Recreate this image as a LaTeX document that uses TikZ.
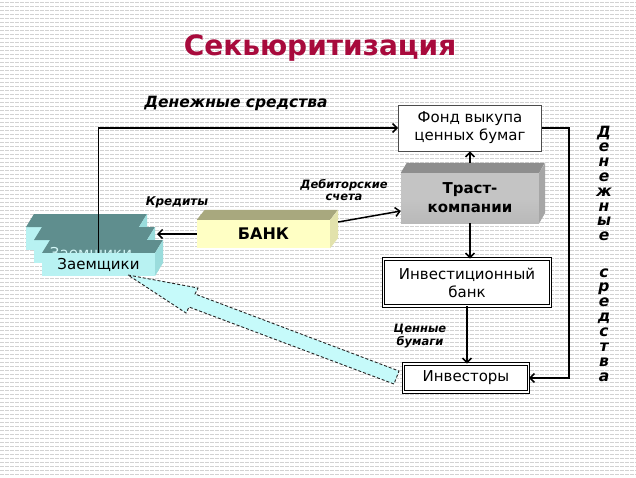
\documentclass[tikz,border=0pt]{standalone}
\usepackage{fontspec}
\setmainfont{DejaVu Sans}
\usetikzlibrary{arrows.meta,calc}
\definecolor{titlered}{HTML}{A80A3C}
\definecolor{zfront}{HTML}{B8F2F2}
\definecolor{ztop}{HTML}{5F8E8E}
\definecolor{zside}{HTML}{9ADCDC}
\definecolor{bfront}{HTML}{FFFFC4}
\definecolor{btop}{HTML}{A8A87E}
\definecolor{bside}{HTML}{E2E2AC}
\definecolor{tfront}{HTML}{C4C4C4}
\definecolor{ttop}{HTML}{8E8E8E}
\definecolor{tside}{HTML}{A6A6A6}
\definecolor{acyan}{HTML}{C6FAFA}
\begin{document}
\begin{tikzpicture}[x=1pt,y=-1pt,
  stripe/.style={draw=gray!35,line width=1pt,dash pattern=on 4pt off 1pt},
  conn/.style={-{Straight Barb[length=4.5pt,width=9pt]},line width=1.5pt},
  plainbox/.style={draw=black!70,fill=white,line width=0.8pt,inner sep=0pt,
    align=center,font=\fontsize{15}{18}\selectfont},
  dblbox/.style={draw=black,double=white,double distance=1.8pt,line width=0.8pt,
    fill=white,inner sep=0pt,align=center,font=\fontsize{15}{18}\selectfont},
  lab/.style={font=\bfseries\itshape\fontsize{11.5}{12.5}\selectfont,align=center},
  vlab/.style={font=\bfseries\itshape\fontsize{15.5}{15.5}\selectfont,anchor=base}
]
\useasboundingbox (0,0) rectangle (636,477);
\fill[white] (0,0) rectangle (636,477);
\foreach \i in {0,...,119} \draw[stripe] (0,{\i*4+2}) -- (636,{\i*4+2});

% title
\node[font=\bfseries\fontsize{28}{32}\selectfont,text=titlered] (title) at (320,48) {Секьюритизация};

% Заемщики: stacked 3D boxes
\foreach \bx/\by in {26/227,34/240} {
  \fill[zfront] (\bx,\by) rectangle (\bx+113,\by+23);
  \fill[ztop] (\bx,\by) -- (\bx+8,\by-13) -- (\bx+121,\by-13) -- (\bx+113,\by) -- cycle;
  \fill[zside] (\bx+113,\by) -- (\bx+121,\by-13) -- (\bx+121,\by+10) -- (\bx+113,\by+23) -- cycle;
}
\fill[ztop] (42,253) -- (50,240) -- (163,240) -- (155,253) -- cycle;
\fill[zside] (155,253) -- (163,240) -- (163,263) -- (155,276) -- cycle;
\begin{scope}
  \clip (40,238) rectangle (160,252.5);
  \node[font=\fontsize{15}{18}\selectfont,text=zfront!60!white,inner sep=0pt] (zghost) at (91,254) {Заемщики};
\end{scope}
\node[fill=zfront,minimum width=113pt,minimum height=23pt,inner sep=0pt,
  font=\fontsize{15}{18}\selectfont] (zaem) at (98.5,264.5) {Заемщики};
\coordinate (zr) at (157,232);

% БАНК
\node[fill=bfront,minimum width=133pt,minimum height=28pt,inner sep=0pt,
  font=\bfseries\fontsize{16}{18}\selectfont] (bank) at (263.5,234) {БАНК};
\fill[btop] (bank.north west) -- ++(8,-10) -- ++(133,0) -- (bank.north east) -- cycle;
\fill[bside] (bank.north east) -- ++(8,-10) -- ++(0,28) -- (bank.south east) -- cycle;

% Траст-компании
\node[top color=tfront,bottom color=gray!55,middle color=tfront,minimum width=138pt,minimum height=50pt,inner sep=0pt,
  align=center,font=\bfseries\fontsize{15}{19}\selectfont] (trast) at (470,198) {Траст-\\компании};
\fill[ttop] (trast.north west) -- ++(6,-10) -- ++(138,0) -- (trast.north east) -- cycle;
\fill[tside] (trast.north east) -- ++(6,-10) -- ++(0,50) -- (trast.south east) -- cycle;

% Фонд
\node[plainbox,minimum width=143pt,minimum height=46pt] (fond) at (470,128) {Фонд выкупа\\ценных бумаг};
% Инвестиционный банк
\node[dblbox,minimum width=167pt,minimum height=47pt] (invbank) at (467,282.5) {Инвестиционный\\банк};
% Инвесторы
\node[dblbox,minimum width=125pt,minimum height=28pt] (invest) at (466,378) {Инвесторы};

% block arrow
\draw[fill=acyan,draw=black!85,line width=0.9pt,dash pattern=on 3pt off 2pt]
  (128,275) -- (198,288) -- (195,294) -- (399,371) -- (394,384) -- (189,307) -- (186,313) -- cycle;

% connectors
\draw[conn] (zaem.north) |- (fond.west);
\draw[conn] (bank.west) -- (zr |- bank.west);
\draw[conn] ([shift={(8,-12)}]bank.east) -- ([shift={(0,13)}]trast.west);
\draw[conn] ([shift={(0,-10)}]trast.north) -- (fond.south);
\draw[conn] (trast.south) -- (trast.south |- invbank.north);
\draw[conn] (invbank.south) -- (invbank.south |- invest.north);
\draw[conn] (fond.east) -- ++(27,0) |- (invest.east);

% labels
\node[font=\bfseries\itshape\fontsize{15.5}{17}\selectfont] (lden) at (236,103) {Денежные средства};
\node[lab,font=\bfseries\itshape\fontsize{12}{13}\selectfont] (lkred) at (177,202) {Кредиты};
\node[lab] (ldeb) at (344,190) {Дебиторские\\счета};
\node[lab] (lcen) at (420,336) {Ценные\\бумаги};

% vertical label
\foreach \ch/\yy [count=\k] in {Д/137,е/151.8,н/166.6,е/181.4,ж/196.2,н/211,ы/225.8,е/240.6,
  с/277,р/291.9,е/306.8,д/321.7,с/336.6,т/351.5,в/366.4,а/381.3}
  \node[vlab] (v\k) at (604,\yy) {\ch};
\end{tikzpicture}
\end{document}
